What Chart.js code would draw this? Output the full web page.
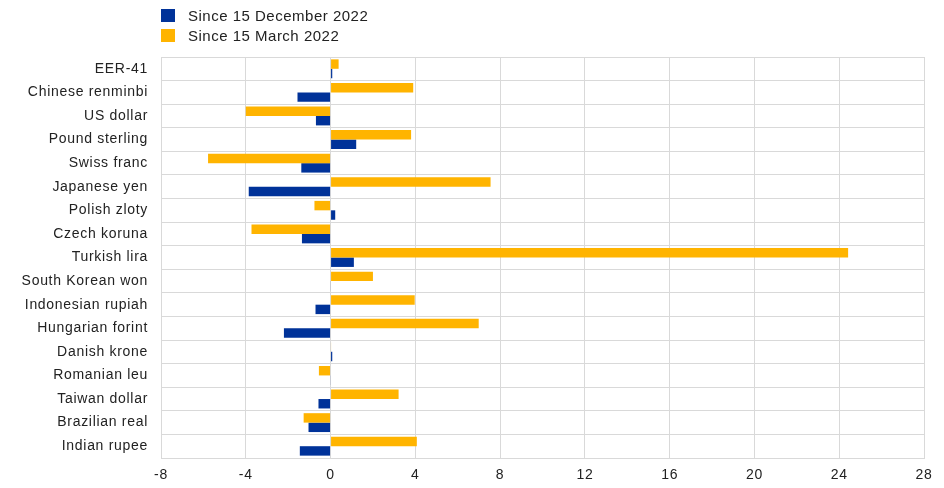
<!DOCTYPE html>
<html>
<head>
<meta charset="utf-8">
<script src="https://cdn.jsdelivr.net/npm/chart.js@4"></script>
<style>
  body { margin: 0; background: #fff; font-family: "Liberation Sans", Arial, sans-serif; }
  #wrap { position: relative; width: 944px; height: 488px; }
  #legend { position: absolute; left: 161px; top: 5px; font-size: 15px; letter-spacing: 0.5px; color: #222; }
  .item { display: flex; align-items: center; height: 20px; }
  .box { width: 14px; height: 13px; margin-right: 13px; }
</style>
</head>
<body>
<div id="wrap">
  <canvas id="chart" width="944" height="488"></canvas>
  <div id="legend">
    <div class="item"><span class="box" style="background:#003299"></span>Since 15 December 2022</div>
    <div class="item"><span class="box" style="background:#FFB400"></span>Since 15 March 2022</div>
  </div>
</div>
<script>
// currencies, top to bottom
const categories = ['EER-41', 'Chinese renminbi', 'US dollar', 'Pound sterling', 'Swiss franc',
  'Japanese yen', 'Polish zloty', 'Czech koruna', 'Turkish lira', 'South Korean won',
  'Indonesian rupiah', 'Hungarian forint', 'Danish krone', 'Romanian leu', 'Taiwan dollar',
  'Brazilian real', 'Indian rupee'];

// percentage changes
const sinceDec2022 = [0.08, -1.56, -0.69, 1.21, -1.38, -3.86, 0.22, -1.35, 1.1, -0.02,
  -0.71, -2.2, 0.08, -0.02, -0.57, -1.04, -1.45];
const sinceMar2022 = [0.38, 3.9, -4.0, 3.8, -5.78, 7.55, -0.76, -3.73, 24.42, 2.0,
  3.97, 6.99, 0.02, -0.55, 3.21, -1.27, 4.07];

const xTicks = [-8, -4, 0, 4, 8, 12, 16, 20, 24, 28];

const gridColor = '#d9d9d9';

// wider text spacing, closer to the original rendering
const spacing = {
  id: 'spacing',
  beforeDraw(chart) { chart.ctx.letterSpacing = '0.7px'; }
};

new Chart(document.getElementById('chart').getContext('2d'), {
  type: 'bar',
  data: {
    labels: categories,
    datasets: [
      { label: 'Since 15 March 2022', data: sinceMar2022, backgroundColor: '#FFB400',
        categoryPercentage: 0.8, barPercentage: 1.0 },
      { label: 'Since 15 December 2022', data: sinceDec2022, backgroundColor: '#003299',
        categoryPercentage: 0.8, barPercentage: 1.0 }
    ]
  },
  plugins: [spacing],
  options: {
    indexAxis: 'y',
    responsive: false,
    animation: false,
    layout: { padding: { top: 57, right: 20, bottom: 0, left: 0 } },
    scales: {
      x: {
        min: -8,
        max: 28,
        afterBuildTicks: (axis) => { axis.ticks = xTicks.map(v => ({ value: v })); },
        afterFit: (axis) => { axis.height = 30; },
        grid: { color: gridColor, drawTicks: false },
        border: { color: gridColor },
        ticks: { padding: 9, color: '#222', font: { family: 'Liberation Sans', size: 14 } }
      },
      y: {
        afterFit: (axis) => { axis.width = 161; },
        grid: { color: gridColor, drawTicks: false, offset: true },
        border: { color: gridColor },
        ticks: { padding: 13, color: '#222', font: { family: 'Liberation Sans', size: 14 } }
      }
    },
    plugins: {
      legend: { display: false },
      tooltip: { enabled: false }
    }
  }
});
</script>
</body>
</html>
